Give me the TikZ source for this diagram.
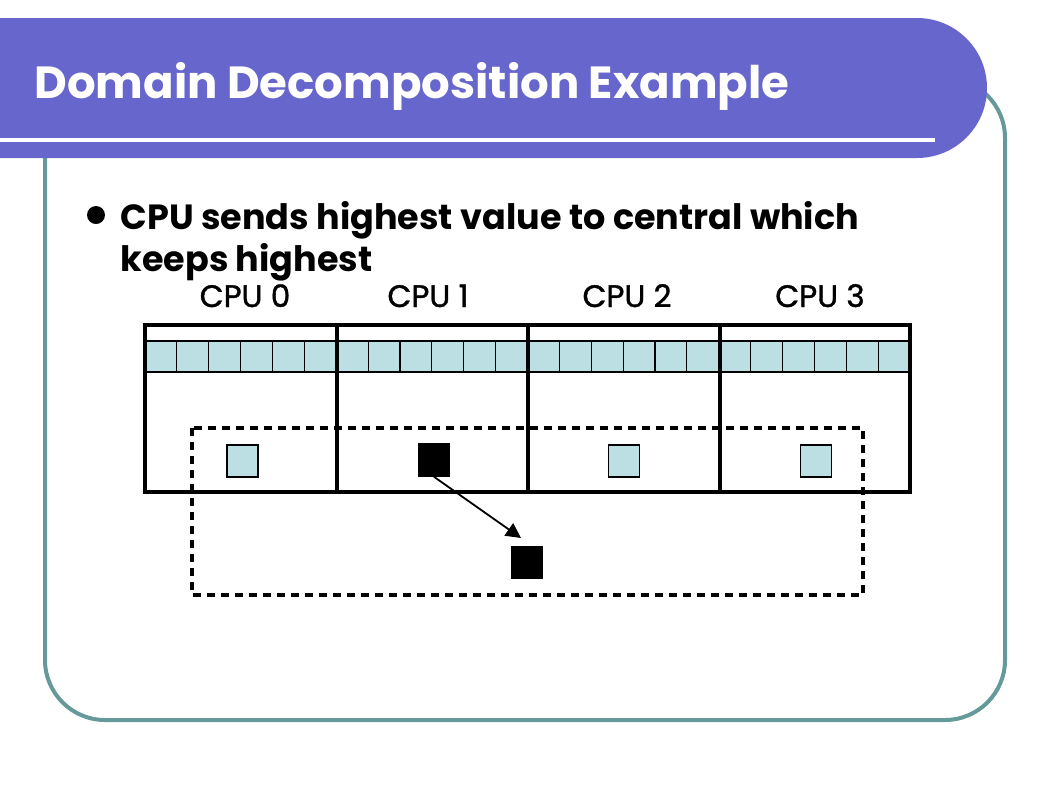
\documentclass[tikz,border=0pt]{standalone}
\usepackage{fontspec}
\setmainfont{Poppins}
\newfontfamily\cpufont{Poppins}[FakeBold=1.2]
\usetikzlibrary{arrows.meta}

\definecolor{bannerblue}{RGB}{102,102,204}
\definecolor{frameteal}{RGB}{102,153,153}
\definecolor{celblue}{RGB}{187,223,227}

\tikzset{
	cell/.style={draw, rectangle, fill=celblue, line width=1.2pt, inner sep=0pt,
		minimum width=31.875pt, minimum height=31pt},
	smallsq/.style={draw, rectangle, line width=1.6pt, inner sep=0pt,
		minimum width=31pt, minimum height=32pt},
	cpulabel/.style={font=\cpufont\fontsize{31}{31}\selectfont, anchor=base},
	heavy/.style={line width=4.5pt},
}

\begin{document}
\begin{tikzpicture}[x=1pt, y=-1pt]
	\useasboundingbox (0, 0) rectangle (1058, 793);
	% frame and title banner
	\draw[frameteal, line width=4pt, rounded corners=60pt] (45, 78) rectangle (1005, 720);
	\fill[bannerblue, rounded corners=70pt] (-100, 18) rectangle (987, 158);
	\fill[white] (0, 138) rectangle (935, 142);
	\node (title) at (31, 98) [anchor=base west, text=white, font=\fontsize{45}{45}\selectfont\bfseries]
		{Domain Decomposition Example};
	% bullet
	\fill (96, 215) circle[radius=9];
	\node (txt1) at (117, 229) [anchor=base west, font=\fontsize{35}{35}\selectfont\bfseries]
		{CPU sends highest value to central which};
	\node (txt2) at (117, 271) [anchor=base west, font=\fontsize{35}{35}\selectfont\bfseries]
		{keeps highest};
	% cpu labels
	\node (l0) at (245, 307) [cpulabel] {CPU 0};
	\node (l1) at (428, 307) [cpulabel] {CPU 1};
	\node (l2) at (627, 307) [cpulabel] {CPU 2};
	\node (l3) at (820, 307) [cpulabel] {CPU 3};
	% data strip
	\foreach \i in {0,...,23}
		\node (cell\i) at (160.94+31.875*\i, 356.5) [cell] {};
	\draw[heavy] (145, 325) rectangle (910, 492);
	\draw[heavy] (337, 325) -- (337, 492);
	\draw[heavy] (528, 325) -- (528, 492);
	\draw[heavy] (720, 325) -- (720, 492);
	% local values
	\node (sq0) at (242.5, 461) [smallsq, fill=celblue] {};
	\node (sq1) at (434, 460)   [smallsq, fill=black] {};
	\node (sq2) at (624, 461)   [smallsq, fill=celblue] {};
	\node (sq3) at (816, 461)   [smallsq, fill=celblue] {};
	\node (central) at (527, 562.5) [smallsq, fill=black] {};
	\draw[line width=3.5pt, dash pattern=on 8pt off 6pt] (192, 428) rectangle (863, 595);
	\coordinate (tip) at (521, 538);
	\draw[line width=1.8pt, -{Triangle[length=15pt, width=15pt]}] (sq1.south) -- (tip);
\end{tikzpicture}
\end{document}
